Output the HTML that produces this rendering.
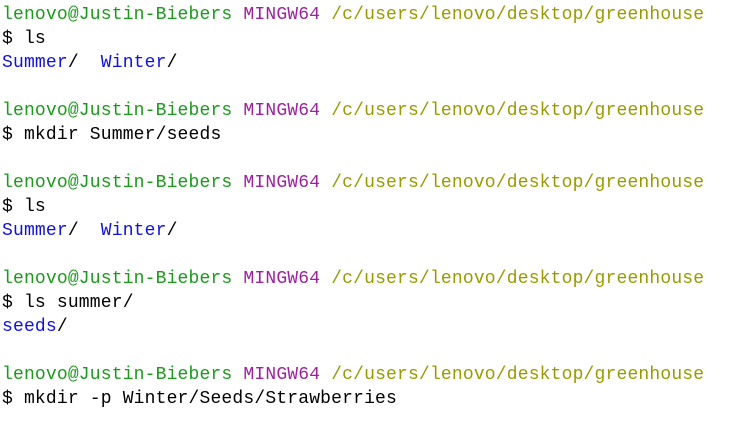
<!DOCTYPE html>
<html><head><style>
html,body{margin:0;padding:0;background:#fff;width:733px;height:429px;overflow:hidden}
pre{margin:0;padding:3px 0 0 2px;font-family:"Liberation Mono",monospace;font-size:18px;letter-spacing:0.17px;line-height:24px;color:#000}
.g{color:#1a9a1a}.m{color:#a01ea0}.y{color:#9a9a00}.b{color:#1010e0}
</style></head><body><pre><span class="g">lenovo@Justin-Biebers</span> <span class="m">MINGW64</span> <span class="y">/c/users/lenovo/desktop/greenhouse</span>
$ ls
<span class="b">Summer</span>/  <span class="b">Winter</span>/

<span class="g">lenovo@Justin-Biebers</span> <span class="m">MINGW64</span> <span class="y">/c/users/lenovo/desktop/greenhouse</span>
$ mkdir Summer/seeds

<span class="g">lenovo@Justin-Biebers</span> <span class="m">MINGW64</span> <span class="y">/c/users/lenovo/desktop/greenhouse</span>
$ ls
<span class="b">Summer</span>/  <span class="b">Winter</span>/

<span class="g">lenovo@Justin-Biebers</span> <span class="m">MINGW64</span> <span class="y">/c/users/lenovo/desktop/greenhouse</span>
$ ls summer/
<span class="b">seeds</span>/

<span class="g">lenovo@Justin-Biebers</span> <span class="m">MINGW64</span> <span class="y">/c/users/lenovo/desktop/greenhouse</span>
$ mkdir -p Winter/Seeds/Strawberries</pre></body></html>
